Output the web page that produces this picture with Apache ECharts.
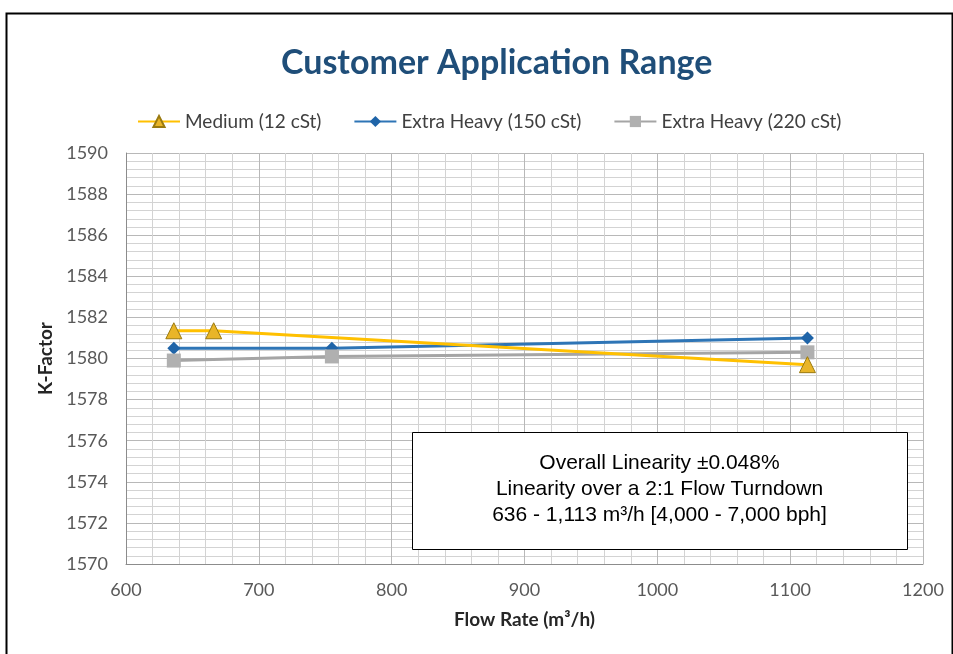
<!DOCTYPE html>
<html>
<head>
<meta charset="utf-8">
<script src="https://cdn.jsdelivr.net/npm/echarts@6/dist/echarts.min.js"></script>
<style>html,body{margin:0;padding:0;background:#fff}#c{width:953px;height:654px}</style>
</head>
<body>
<div id="c"></div>
<script>
const titleText = 'Customer Application Range';
const seriesNames = ['Medium (12 cSt)', 'Extra Heavy (150 cSt)', 'Extra Heavy (220 cSt)'];
const mediumFlow = [636, 666, 1113];
const mediumK = [1581.35, 1581.35, 1579.7];
const heavy150Flow = [636, 755, 1113];
const heavy150K = [1580.5, 1580.5, 1581.0];
const heavy220Flow = [636, 755, 1113];
const heavy220K = [1579.9, 1580.1, 1580.3];
const noteLines = ['Overall Linearity ±0.048%', 'Linearity over a 2:1 Flow Turndown', '636 - 1,113 m³/h [4,000 - 7,000 bph]'];

function pairs(xs, ys){ return xs.map((x,i)=>[x, ys[i]]); }

const chart = echarts.init(document.getElementById('c'));
const font = 'Lato, "Open Sans", sans-serif';
chart.setOption({
  animation: false,
  backgroundColor: '#fff',
  title: {
    text: titleText, left: 276, top: 41,
    textStyle: {fontFamily: font, fontSize: 34, fontWeight: 'bold', color: '#1F4E79'}
  },
  legend: {
    top: 107, left: 132, itemWidth: 42, itemHeight: 14, itemGap: 32,
    textStyle: {fontFamily: font, fontSize: 19, color: '#404040'},
    data: seriesNames
  },
  grid: {left: 126, right: 30, top: 153, bottom: 90},
  xAxis: {
    type: 'value', min: 600, max: 1200, interval: 100,
    name: 'Flow Rate (m³/h)', nameLocation: 'middle', nameGap: 46,
    nameTextStyle: {fontFamily: font, fontSize: 19, fontWeight: 'bold', color: '#262626'},
    axisLine: {show: true, lineStyle: {color: '#8c8c8c', width: 1}},
    axisTick: {show: false},
    axisLabel: {fontFamily: font, fontSize: 18, color: '#595959', margin: 17, formatter: v => String(v)},
    splitLine: {show: true, lineStyle: {color: '#b8b8b8', width: 1}},
    minorTick: {show: false, splitNumber: 5},
    minorSplitLine: {show: true, lineStyle: {color: '#d3d3d3', width: 1}}
  },
  yAxis: {
    type: 'value', min: 1570, max: 1590, interval: 2,
    name: 'K-Factor', nameLocation: 'middle', nameGap: 70,
    nameTextStyle: {fontFamily: font, fontSize: 19, fontWeight: 'bold', color: '#262626'},
    axisLine: {show: true, lineStyle: {color: '#8c8c8c', width: 1}},
    axisTick: {show: false},
    axisLabel: {fontFamily: font, fontSize: 18, color: '#595959', margin: 18, formatter: v => String(v)},
    splitLine: {show: true, lineStyle: {color: '#b8b8b8', width: 1}},
    minorTick: {show: false, splitNumber: 5},
    minorSplitLine: {show: true, lineStyle: {color: '#d3d3d3', width: 1}}
  },
  series: [
    {
      name: seriesNames[1], type: 'line', data: pairs(heavy150Flow, heavy150K),
      symbol: 'diamond', symbolSize: 13,
      lineStyle: {color: '#2E75B6', width: 3},
      itemStyle: {color: '#1F64A8'}
    },
    {
      name: seriesNames[2], type: 'line', data: pairs(heavy220Flow, heavy220K),
      symbol: 'rect', symbolSize: 14,
      lineStyle: {color: '#A5A5A5', width: 3},
      itemStyle: {color: '#B0B0B0'}
    },
    {
      name: seriesNames[0], type: 'line', data: pairs(mediumFlow, mediumK),
      symbol: 'triangle', symbolSize: 16,
      lineStyle: {color: '#FFC000', width: 3},
      itemStyle: {color: '#E9B528', borderColor: '#9A7A10', borderWidth: 1}
    }
  ],
  graphic: [
    {type: 'rect', left: 4, top: 11, shape: {width: 946, height: 660}, style: {fill: 'none', stroke: '#000', lineWidth: 2}, silent: true, z: 100},
    {type: 'rect', left: 412, top: 432, shape: {width: 495, height: 117}, style: {fill: '#fff', stroke: '#000', lineWidth: 1}, z: 50},
    {type: 'text', x: 659.5, y: 450, z: 51,
      style: {text: noteLines.join('\n'), font: '21px "Liberation Sans", Arial, sans-serif', fill: '#000', textAlign: 'center', textVerticalAlign: 'top', lineHeight: 26}}
  ]
});
</script>
</body>
</html>
